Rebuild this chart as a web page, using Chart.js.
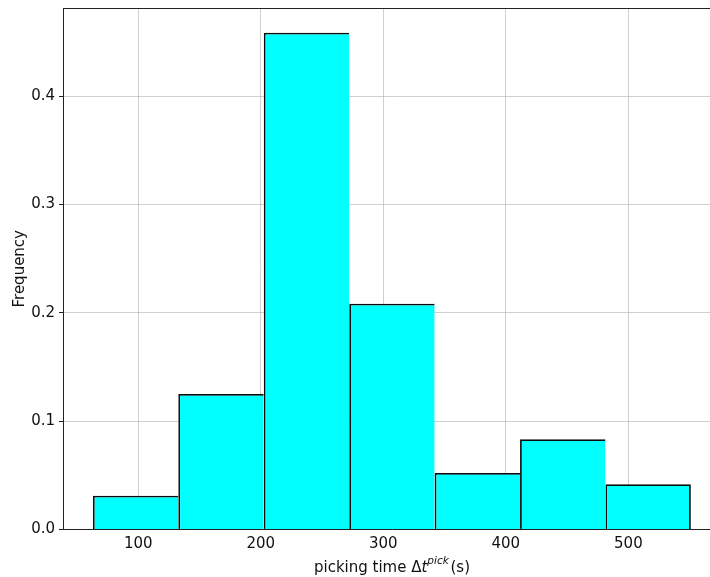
<!DOCTYPE html>
<html>
<head>
<meta charset="utf-8">
<script src="https://cdn.jsdelivr.net/npm/chart.js@4/dist/chart.umd.min.js"></script>
<style>
  html, body { margin: 0; padding: 0; background: #ffffff; overflow: hidden; }
  #wrap { width: 740px; height: 577px; }
</style>
</head>
<body>
<div id="wrap"><canvas id="hist" width="740" height="577"></canvas></div>
<script>
// Histogram bins (edges in seconds) and normalised frequency per bin
const binEdges = [63.0, 132.7, 202.4, 272.2, 341.9, 411.6, 481.3, 551.0];
const frequencies = [0.03125, 0.125, 0.4583, 0.2083, 0.0521, 0.0833, 0.0417];

// Axis ticks and ranges
const xTicks = [100, 200, 300, 400, 500];
const yTicks = [0.0, 0.1, 0.2, 0.3, 0.4];
const xRange = [38.6, 575.6];
const yRange = [0, 0.4812];

const FONT = "'DejaVu Sans', sans-serif";
const TEXT = '#111111';
const GRID = 'rgba(176,176,176,0.6)';

// One bar per bin, centred between its edges
const barPoints = frequencies.map((f, i) => ({
  x: (binEdges[i] + binEdges[i + 1]) / 2,
  y: f
}));
const lastBar = frequencies.length - 1;

// Top/right spines around the plotting area
const frame = {
  id: 'frame',
  afterDraw(chart) {
    const { ctx, chartArea: a } = chart;
    ctx.save();
    ctx.strokeStyle = '#222';
    ctx.lineWidth = 1;
    ctx.beginPath();
    ctx.moveTo(a.left, a.top + 0.5);
    ctx.lineTo(a.right, a.top + 0.5);
    ctx.moveTo(a.right - 0.5, a.top);
    ctx.lineTo(a.right - 0.5, a.bottom);
    ctx.stroke();
    ctx.restore();
  }
};

// x-axis title with an italic symbol and superscript
const xTitle = {
  id: 'xTitle',
  afterDraw(chart) {
    const { ctx, chartArea: a } = chart;
    const runs = [
      { t: 'picking time \u0394', f: `15px ${FONT}`, dy: 0 },
      { t: 't', f: `italic 15px ${FONT}`, dy: 0 },
      { t: 'pick', f: `italic 10.6px ${FONT}`, dy: -7.5 },
      { t: '(s)', f: `15px ${FONT}`, dy: 0, pad: 1.5 }
    ];
    ctx.save();
    let total = 0;
    runs.forEach(r => { ctx.font = r.f; r.w = ctx.measureText(r.t).width; total += r.w + (r.pad || 0); });
    let x = (a.left + a.right) / 2 - total / 2;
    const base = 571.5;
    ctx.fillStyle = TEXT;
    ctx.textBaseline = 'alphabetic';
    ctx.textAlign = 'left';
    runs.forEach(r => {
      x += (r.pad || 0);
      ctx.font = r.f;
      ctx.fillText(r.t, x, base + r.dy);
      x += r.w;
    });
    ctx.restore();
  }
};

new Chart(document.getElementById('hist'), {
  type: 'bar',
  data: {
    datasets: [{
      data: barPoints,
      backgroundColor: '#00ffff',
      borderColor: '#0a0a0a',
      borderWidth: (c) => ({ top: 1.8, left: 1.8, bottom: 0, right: c.dataIndex === lastBar ? 1.8 : 0 }),
      borderSkipped: false,
      barPercentage: 1,
      categoryPercentage: 1,
      inflateAmount: 0
    }]
  },
  options: {
    responsive: false,
    animation: false,
    devicePixelRatio: 1,
    layout: { padding: { left: 0, top: 8, right: 19, bottom: 0 } },
    plugins: { legend: { display: false }, tooltip: { enabled: false } },
    scales: {
      x: {
        type: 'linear',
        min: xRange[0],
        max: xRange[1],
        offset: false,
        z: 1,
        afterBuildTicks: (s) => { s.ticks = xTicks.map(v => ({ value: v })); },
        afterFit: (s) => { s.height = 47.5; s.paddingLeft = 0; s.paddingRight = 0; },
        grid: { offset: false, color: GRID, lineWidth: 1, tickLength: 4, tickColor: 'rgba(0,0,0,0)' },
        border: { display: true, color: '#222', width: 1 },
        ticks: {
          color: TEXT,
          font: { family: FONT, size: 15 },
          padding: 2,
          maxRotation: 0,
          autoSkip: false,
          callback: (v) => String(v)
        }
      },
      y: {
        min: yRange[0],
        max: yRange[1],
        z: 1,
        afterBuildTicks: (s) => { s.ticks = yTicks.map(v => ({ value: v })); },
        afterFit: (s) => { s.width = 63; s.paddingTop = 0; s.paddingBottom = 0; },
        grid: { color: GRID, lineWidth: 1, tickLength: 4, tickColor: '#222' },
        border: { display: true, color: '#222', width: 1 },
        ticks: {
          color: TEXT,
          font: { family: FONT, size: 15 },
          padding: 4,
          autoSkip: false,
          callback: (v) => v.toFixed(1)
        },
        title: {
          display: true,
          text: 'Frequency',
          color: TEXT,
          font: { family: FONT, size: 15 },
          padding: { top: 11, bottom: 0 }
        }
      }
    }
  },
  plugins: [frame, xTitle]
});
</script>
</body>
</html>
